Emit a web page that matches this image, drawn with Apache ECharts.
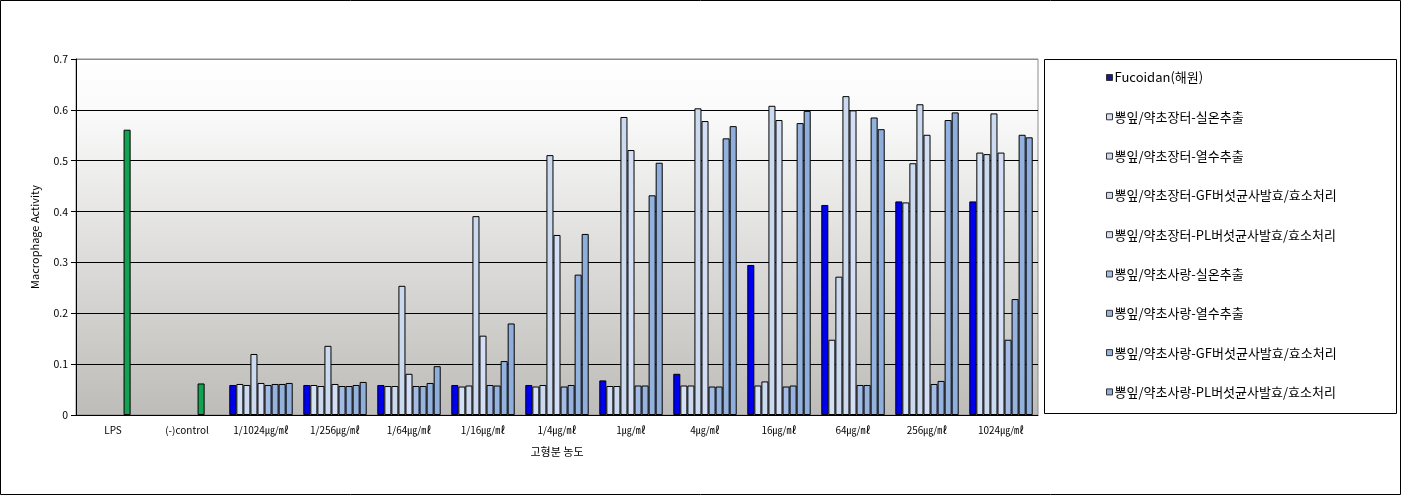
<!DOCTYPE html>
<html>
<head>
<meta charset="utf-8">
<script src="https://cdn.jsdelivr.net/npm/echarts@6/dist/echarts.min.js"></script>
<style>
html,body{margin:0;padding:0;background:#fff;}
#chart{width:1402px;height:496px;}
</style>
</head>
<body>
<div id="chart"></div>
<script>
// ---- data ----
var controlCategories = ['LPS', '(-)control'];
var controlValues = [0.561, 0.062];
var concCategories = ['1/1024㎍/㎖', '1/256㎍/㎖', '1/64㎍/㎖', '1/16㎍/㎖', '1/4㎍/㎖', '1㎍/㎖', '4㎍/㎖', '16㎍/㎖', '64㎍/㎖', '256㎍/㎖', '1024㎍/㎖'];
var seriesNames = ['Fucoidan(해원)', '뽕잎/약초장터-실온추출', '뽕잎/약초장터-열수추출', '뽕잎/약초장터-GF버섯균사발효/효소처리', '뽕잎/약초장터-PL버섯균사발효/효소처리', '뽕잎/약초사랑-실온추출', '뽕잎/약초사랑-열수추출', '뽕잎/약초사랑-GF버섯균사발효/효소처리', '뽕잎/약초사랑-PL버섯균사발효/효소처리'];
var fucoidan   = [0.059, 0.059, 0.059, 0.059, 0.059, 0.068, 0.081, 0.295, 0.413, 0.420, 0.420];
var jangteoRT  = [0.061, 0.059, 0.057, 0.056, 0.056, 0.057, 0.058, 0.058, 0.148, 0.418, 0.516];
var jangteoHW  = [0.059, 0.057, 0.057, 0.058, 0.059, 0.057, 0.058, 0.066, 0.272, 0.495, 0.513];
var jangteoGF  = [0.120, 0.136, 0.254, 0.391, 0.511, 0.586, 0.603, 0.608, 0.627, 0.611, 0.593];
var jangteoPL  = [0.063, 0.061, 0.081, 0.156, 0.354, 0.521, 0.578, 0.580, 0.599, 0.551, 0.516];
var sarangRT   = [0.059, 0.057, 0.057, 0.059, 0.056, 0.058, 0.056, 0.056, 0.059, 0.061, 0.148];
var sarangHW   = [0.061, 0.057, 0.057, 0.058, 0.059, 0.058, 0.056, 0.058, 0.059, 0.067, 0.228];
var sarangGF   = [0.061, 0.059, 0.063, 0.106, 0.276, 0.432, 0.544, 0.574, 0.585, 0.580, 0.551];
var sarangPL   = [0.063, 0.065, 0.096, 0.180, 0.356, 0.496, 0.568, 0.598, 0.562, 0.595, 0.546];
var yTicks = [0, 0.1, 0.2, 0.3, 0.4, 0.5, 0.6, 0.7];

// ---- build ----
var categories = controlCategories.concat(concCategories);
var allValues = [fucoidan, jangteoRT, jangteoHW, jangteoGF, jangteoPL, sarangRT, sarangHW, sarangGF, sarangPL];
var colors = ['#0000F0', '#D4E0F4', '#CCDAF0', '#CCDAF0', '#D4DEF4', '#A2BCE6', '#96B3DF', '#94B2DE', '#8FAEDC'];
var greenSeriesIndex = 6;

var series = allValues.map(function (vals, i) {
  var lead = controlValues.map(function (v) {
    if (i === greenSeriesIndex) {
      return { value: v, itemStyle: { color: '#12A352' } };
    }
    return null;
  });
  return {
    name: seriesNames[i],
    type: 'bar',
    data: lead.concat(vals),
    barGap: '0%',
    barCategoryGap: '14.3%',
    itemStyle: { color: colors[i], borderColor: '#000', borderWidth: 1 },
    emphasis: { disabled: true },
    animation: false
  };
});

var chart = echarts.init(document.getElementById('chart'), null, { renderer: 'canvas' });
var font = '"Noto Sans CJK KR", "Noto Sans", sans-serif';
chart.setOption({
  backgroundColor: '#fff',
  animation: false,
  textStyle: { fontFamily: font },
  grid: {
    left: 76, right: 364, top: 59, bottom: 81,
    show: true,
    borderColor: '#8c8c8c', borderWidth: 1,
    backgroundColor: {
      type: 'linear', x: 0, y: 0, x2: 0, y2: 1,
      colorStops: [
        { offset: 0, color: '#FFFFFF' },
        { offset: 0.15, color: '#FAFAFA' },
        { offset: 1, color: '#BDBCB8' }
      ]
    }
  },
  legend: {
    orient: 'vertical',
    left: 1101, top: 65,
    itemWidth: 6, itemHeight: 6,
    itemGap: 24.3,
    icon: 'rect',
    selectedMode: false,
    textStyle: { fontFamily: font, fontSize: 13, color: '#000', lineHeight: 15, padding: [0, 0, 0, -3] },
    data: seriesNames.map(function (n, i) {
      return { name: n, itemStyle: { color: i === 0 ? '#1A1A8C' : colors[i], borderColor: '#333', borderWidth: 1 } };
    })
  },
  xAxis: {
    type: 'category',
    data: categories,
    name: '고형분 농도',
    nameLocation: 'middle',
    nameGap: 31,
    nameTextStyle: { fontFamily: font, fontSize: 11, color: '#000' },
    axisLine: { lineStyle: { color: '#000', width: 1 } },
    axisTick: { show: false },
    axisLabel: { fontFamily: font, fontSize: 10, color: '#000', margin: 10, interval: 0 }
  },
  yAxis: {
    type: 'value',
    min: yTicks[0], max: yTicks[yTicks.length - 1], interval: 0.1,
    name: 'Macrophage Activity',
    nameLocation: 'middle',
    nameGap: 36,
    nameRotate: 90,
    nameTextStyle: { fontFamily: font, fontSize: 11, color: '#000' },
    axisLine: { show: true, lineStyle: { color: '#000', width: 1 } },
    axisTick: { show: true, length: 5, lineStyle: { color: '#000' } },
    axisLabel: {
      fontFamily: font, fontSize: 10.5, color: '#000', margin: 8,
      formatter: function (v) { return Math.round(v * 10) / 10 + ''; }
    },
    splitLine: { show: true, lineStyle: { color: ['#000', '#000', '#000', '#000', '#000', '#000', '#000', '#8c8c8c'], width: 1 } }
  },
  graphic: [
    { type: 'rect', shape: { x: 0.5, y: 0.5, width: 1400, height: 494 }, style: { fill: 'none', stroke: '#000', lineWidth: 1 }, z: 100 },
    { type: 'rect', shape: { x: 1044.5, y: 59.5, width: 352, height: 354 }, style: { fill: '#fff', stroke: '#000', lineWidth: 1 }, z: -1 }
  ],
  series: series
});
</script>
</body>
</html>
